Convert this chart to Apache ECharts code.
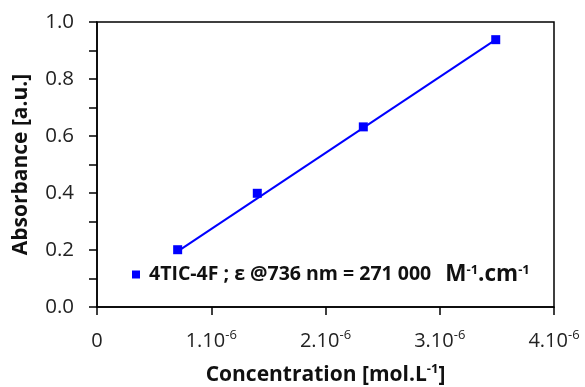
<!DOCTYPE html>
<html>
<head>
<meta charset="utf-8">
<script src="https://cdn.jsdelivr.net/npm/echarts@6/dist/echarts.min.js"></script>
<style>
  html, body { margin: 0; padding: 0; background: #fff; }
  #chart { width: 585px; height: 387px; }
</style>
</head>
<body>
<div id="chart"></div>
<script>
// measured points (concentration in mol/L, absorbance)
const concentration = [0.706e-6, 1.403e-6, 2.331e-6, 3.49e-6];
const absorbance = [0.201, 0.399, 0.632, 0.938];
// linear fit at its two ends
const fitX = [0.706e-6, 3.49e-6];
const fitY = [0.195, 0.938];
const seriesName = '4TIC-4F';

const FONT = '"Open Sans", sans-serif';

function initChart() {
    const chartDom = document.getElementById('chart');
    const chart = echarts.init(chartDom);

    const option = {
        animation: false,
        textStyle: { fontFamily: FONT },
        grid: {
            left: 97,
            right: 31,
            top: 22,
            bottom: 80,
            outerBoundsMode: 'none',
            containLabel: false,
            show: true,
            borderColor: '#000',
            borderWidth: 1.5
        },
        legend: {
            data: [seriesName],
            left: 127,
            top: 258,
            itemWidth: 8,
            itemHeight: 8,
            icon: 'rect',
            formatter: function() {
                return '{a|4TIC-4F ; ε @736 nm = 271 000}{b|M}{s|-1}{c|.cm}{s|-1}';
            },
            textStyle: {
                rich: {
                    a: { fontFamily: FONT, fontSize: 19.5, fontWeight: 'bold', color: '#111', lineHeight: 22, padding: [0, 0, 0, 4] },
                    b: { fontFamily: FONT, fontSize: 22.5, fontWeight: 'bold', color: '#111', lineHeight: 22, padding: [0, 0, 0, 14] },
                    c: { fontFamily: FONT, fontSize: 22.5, fontWeight: 'bold', color: '#111', lineHeight: 22 },
                    s: { fontFamily: FONT, fontSize: 13, fontWeight: 'bold', color: '#111', verticalAlign: 'top', lineHeight: 12 }
                }
            }
        },
        xAxis: {
            type: 'value',
            min: 0,
            max: 4e-6,
            interval: 1e-6,
            name: '{t|Concentration [mol.L}{s|-1}{t|]}',
            nameLocation: 'middle',
            nameGap: 56,
            nameTextStyle: {
                rich: {
                    t: { fontFamily: FONT, fontSize: 21, fontWeight: 'bold', color: '#111', lineHeight: 24 },
                    s: { fontFamily: FONT, fontSize: 13, fontWeight: 'bold', color: '#111', verticalAlign: 'top', lineHeight: 12 }
                }
            },
            axisLine: { onZero: false, lineStyle: { color: '#000', width: 1.5 } },
            axisTick: { show: true, inside: false, length: 8, lineStyle: { color: '#000', width: 1.5 } },
            splitLine: { show: false },
            axisLabel: {
                margin: 22,
                formatter: function(v) {
                    const n = Math.round(v / 1e-6);
                    if (n === 0) return '{m|0}';
                    return '{m|' + n + '.10}{s|-6}';
                },
                rich: {
                    m: { fontFamily: FONT, fontSize: 20, color: '#222', lineHeight: 24 },
                    s: { fontFamily: FONT, fontSize: 13, color: '#222', verticalAlign: 'top', lineHeight: 12 }
                }
            }
        },
        yAxis: {
            type: 'value',
            min: 0,
            max: 1,
            interval: 0.2,
            name: 'Absorbance [a.u.]',
            nameLocation: 'middle',
            nameGap: 65,
            nameTextStyle: { fontFamily: FONT, fontSize: 21, fontWeight: 'bold', color: '#111' },
            axisLine: { onZero: false, lineStyle: { color: '#000', width: 1.5 } },
            axisTick: { show: true, inside: false, length: 8, lineStyle: { color: '#000', width: 1.5 } },
            minorTick: { show: true, splitNumber: 2, length: 8, lineStyle: { color: '#000', width: 1.5 } },
            splitLine: { show: false },
            axisLabel: {
                margin: 23,
                fontFamily: FONT,
                fontSize: 20.5,
                color: '#222',
                formatter: function(v) { return v.toFixed(1); }
            }
        },
        series: [
            {
                name: 'fit',
                type: 'line',
                data: fitX.map(function(x, i) { return [x, fitY[i]]; }),
                showSymbol: false,
                lineStyle: { color: '#0000ff', width: 2 },
                silent: true,
                z: 2
            },
            {
                name: seriesName,
                type: 'scatter',
                data: concentration.map(function(x, i) { return [x, absorbance[i]]; }),
                symbol: 'rect',
                symbolSize: 9,
                itemStyle: { color: '#0000ff', opacity: 1 },
                z: 3
            }
        ]
    };

    chart.setOption(option);
    window.addEventListener('resize', function() { chart.resize(); });
}

initChart();
</script>
</body>
</html>
